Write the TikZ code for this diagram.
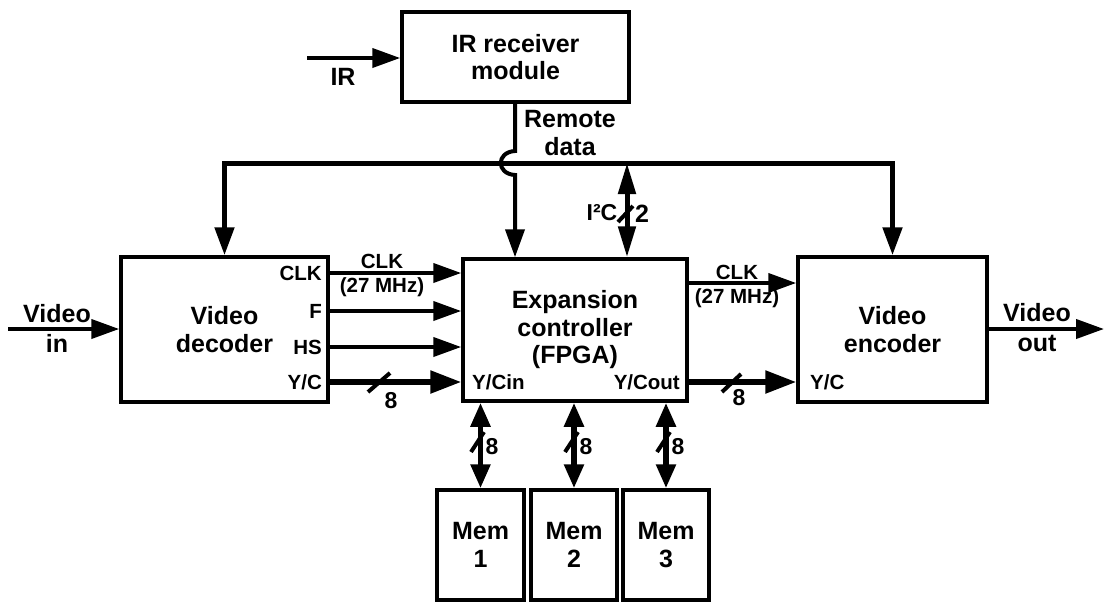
\documentclass[tikz,border=0pt]{standalone}
\usepackage{fontspec}
\setmainfont{Liberation Sans}
\usetikzlibrary{arrows.meta}
\begin{document}
\begin{tikzpicture}[x=1pt,y=-1pt,
  box/.style={draw, line width=3.5pt, inner sep=0pt, font=\fontsize{25}{27.5}\selectfont\bfseries, align=center},
  lbl/.style={inner sep=0pt, font=\fontsize{25}{30}\selectfont\bfseries, align=center},
  port/.style={inner sep=0pt, font=\fontsize{20.5}{24}\selectfont\bfseries, align=center},
  num/.style={inner sep=0pt, font=\fontsize{23}{24}\selectfont\bfseries},
  sig/.style={line width=4pt, -{Triangle[length=28pt,width=19pt]}},
  wide/.style={line width=5.5pt, -{Triangle[length=31pt,width=22pt]}},
  busline/.style={line width=5pt, {Triangle[length=28pt,width=19pt]}-{Triangle[length=28pt,width=19pt]}},
  dbl/.style={line width=5.5pt, {Triangle[length=24pt,width=19pt]}-{Triangle[length=24pt,width=19pt]}},
  slash/.style={line width=4pt}
]
\useasboundingbox (0,0) rectangle (1106,603);

% boxes
\node[box, minimum width=227pt, minimum height=90pt] (irm) at (515.5,57) {IR receiver\\module};
\node[box, minimum width=207pt, minimum height=145pt] (dec) at (224.5,329.5) {Video\\decoder};
\node[box, minimum width=224pt, minimum height=142pt] (fpga) at (575,330) {Expansion\\controller\\(FPGA)};
\node[box, minimum width=189pt, minimum height=145pt] (enc) at (892.5,329.5) {Video\\encoder};
\node[box, minimum width=87pt, minimum height=110pt] (m1) at (480.5,545) {Mem\\1};
\node[box, minimum width=86pt, minimum height=110pt] (m2) at (574,545) {Mem\\2};
\node[box, minimum width=86pt, minimum height=110pt] (m3) at (666,545) {Mem\\3};

% port labels
\node[port, anchor=east] (pclk) at (322,273) {CLK};
\node[port, anchor=east] (pf) at (322,311) {F};
\node[port, anchor=east] (phs) at (322,347) {HS};
\node[port, anchor=east] (pyc) at (322,382) {Y/C};
\node[port, anchor=west] (pycin) at (472,382) {Y/Cin};
\node[port, anchor=east] (pycout) at (680,382) {Y/Cout};
\node[port, anchor=west] (pyce) at (810,382) {Y/C};

% inputs / outputs
\coordinate (vin) at (8,329);
\coordinate (vout) at (1104,329);
\draw[sig] (vin) -- (dec.west |- vin);
\node[lbl] (vinl) at (57,328) {Video\\in};
\draw[sig] (enc.east |- vout) -- (vout);
\node[lbl] (voutl) at (1037,328) {Video\\out};

\coordinate (irin) at (307,58);
\draw[sig] (irin) -- (irm.west |- irin);
\node[lbl] (irl) at (343,77) {IR};

% bus
\coordinate (busL) at (224.5,163);
\draw[busline] (dec.north) |- (busL) -- (enc.north |- busL) -- (enc.north);

% remote data with hop
\coordinate (hopa) at (515,151);
\coordinate (hopb) at (515,175);
\draw[sig] (irm.south -| hopa) -- (hopa) .. controls (496,152) and (496,174) .. (hopb) -- (fpga.north -| hopb);
\node[lbl, font=\fontsize{25}{28}\selectfont\bfseries] (rdl) at (570,133) {Remote\\data};

% I2C
\coordinate (i2c) at (627,163);
\draw[line width=5pt, {Triangle[length=31pt,width=17pt]}-{Triangle[length=31pt,width=17pt]}] (i2c) -- (fpga.north -| i2c);
\draw[slash] (618,222) -- (633,206);
\node[port, font=\fontsize{23}{24}\selectfont\bfseries] (i2cl) at (602,213) {I²C};
\node[num, font=\fontsize{25}{26}\selectfont\bfseries] (i2cn) at (642,214) {2};

% decoder -> fpga
\draw[sig] (dec.east |- pclk) -- (fpga.west |- pclk);
\draw[sig] (dec.east |- pf) -- (fpga.west |- pf);
\draw[sig] (dec.east |- phs) -- (fpga.west |- phs);
\draw[wide] (dec.east |- pyc) -- (fpga.west |- pyc);
\node[port] (clkl) at (382,275) {CLK\\(27 MHz)};
\draw[slash] (368,392) -- (390,373);
\node[num] (n1) at (391,401) {8};

% fpga -> encoder
\coordinate (clko) at (687,283);
\draw[sig] (fpga.east |- clko) -- (enc.west |- clko);
\node[port] (clkr) at (737,286) {CLK\\(27 MHz)};
\draw[wide] (fpga.east |- pycout) -- (enc.west |- pycout);
\draw[slash] (722,392) -- (741,374);
\node[num] (n2) at (739,398) {8};

% memories
\draw[dbl] (fpga.south -| m1.north) -- (m1.north);
\draw[dbl] (fpga.south -| m2.north) -- (m2.north);
\draw[dbl] (fpga.south -| m3.north) -- (m3.north);
\draw[slash] (471,452) -- (484,432);
\draw[slash] (565,452) -- (578,432);
\draw[slash] (657,452) -- (670,432);
\node[num] (n3) at (492,447) {8};
\node[num] (n4) at (586,447) {8};
\node[num] (n5) at (678,447) {8};
\end{tikzpicture}
\end{document}
